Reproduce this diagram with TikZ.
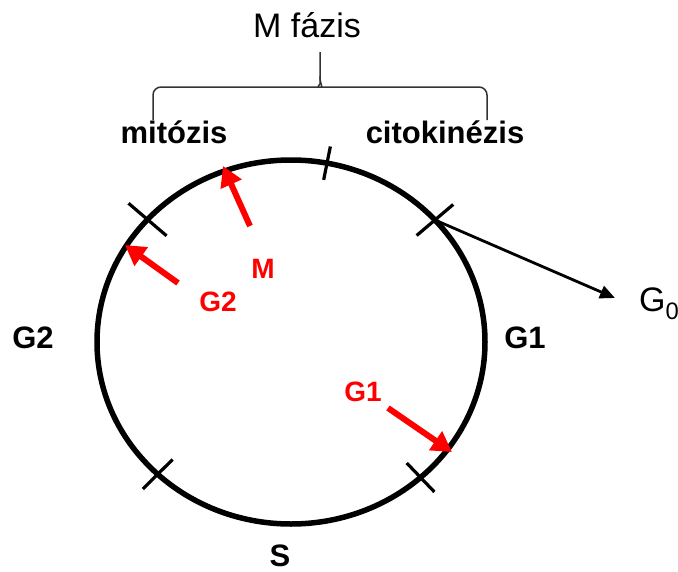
\documentclass[tikz,border=0pt]{standalone}
\usepackage{fontspec}
\setmainfont{Liberation Sans}
\usetikzlibrary{arrows.meta,calc}

\begin{document}
\begin{tikzpicture}[x=1pt, y=-1pt,
    tickmark/.style={line width=3.2pt},
    redarrow/.style={draw=red, line width=6pt, -{Triangle[length=20pt,width=22pt]}},
    bracepart/.style={line width=1.5pt, black!80, rounded corners=8pt},
    phase/.style={font=\fontsize{31}{36}\selectfont\bfseries, anchor=base, inner sep=0pt},
    redlabel/.style={text=red, font=\fontsize{28}{34}\selectfont\bfseries, anchor=base, inner sep=0pt}]
    \useasboundingbox (0,0) rectangle (678,571);

    % --- cycle ---
    \coordinate (c) at (291,342);
    \draw[line width=5.5pt] (c) ellipse [x radius=194, y radius=182];
    \foreach \name/\ang/\half in {tul/-137.7/25, ttop/-79.3/17, tur/-42.1/24, tll/133.4/21, tlr/48.1/20} {
        \coordinate (\name) at ($(c)+(\ang:194 and 182)$);
        \draw[tickmark] ($(\name)!\half pt!(c)$) -- ($(\name)!-\half pt!(c)$);
    }

    % --- M phase brace ---
    \node[font=\fontsize{34}{40}\selectfont, anchor=base, inner sep=0pt] (mfazis) at (307,37) {M fázis};
    \draw[bracepart] (153,120) -- (153,87) -- (311,87) .. controls (317,87) and (320,84) .. (320,76) -- (320,52);
    \draw[bracepart] (487,120) -- (487,87) -- (329,87) .. controls (323,87) and (320,84) .. (320,76);
    \node[phase] (mitozis) at (174,143) {mitózis};
    \node[phase] (citokinezis) at (445,143) {citokinézis};

    % --- phase names ---
    \node[phase] (g2) at (33,348) {G2};
    \node[phase] (g1) at (525,348) {G1};
    \node[phase] (s) at (280,566) {S};

    % --- exit to G0 ---
    \node[font=\fontsize{34}{40}\selectfont, anchor=base west, inner sep=0pt] (g0) at (639,311) {G\textsubscript{0}};
    \coordinate (g0tip) at (615,298);
    \draw[line width=2.8pt, -{Triangle[length=15pt,width=13pt]}] (tur) -- (g0tip);

    % --- checkpoints ---
    \node[redlabel] (rm) at (263,278) {M};
    \node[redlabel] (rg2) at (218,311) {G2};
    \node[redlabel] (rg1) at (363,401) {G1};
    \coordinate (mfrom) at (250,226);  \coordinate (mto) at (223,166);
    \coordinate (g2from) at (178,283); \coordinate (g2to) at (125,245);
    \coordinate (g1from) at (388,408); \coordinate (g1to) at (452,452);
    \draw[redarrow] (mfrom) -- (mto);
    \draw[redarrow] (g2from) -- (g2to);
    \draw[redarrow] (g1from) -- (g1to);
\end{tikzpicture}
\end{document}
